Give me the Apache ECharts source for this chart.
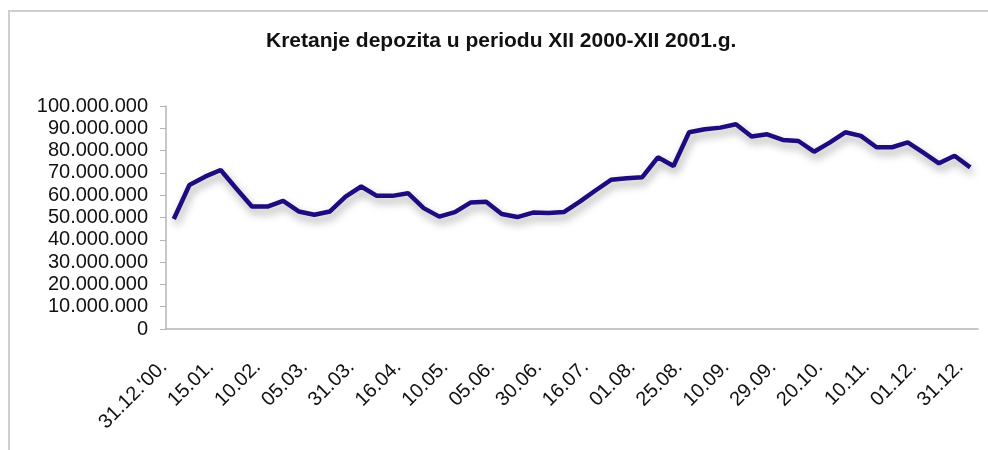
<!DOCTYPE html>
<html>
<head>
<meta charset="utf-8">
<script src="https://cdn.jsdelivr.net/npm/echarts@6/dist/echarts.min.js"></script>
<style>
  html, body { margin: 0; padding: 0; background: #fff; }
  #chart { width: 988px; height: 450px; }
</style>
</head>
<body>
<div id="chart"></div>
<script>
// labels shown under every third point
const dateLabels = ['31.12.\'00.', '15.01.', '10.02.', '05.03.', '31.03.', '16.04.', '10.05.', '05.06.', '30.06.',
  '16.07.', '01.08.', '25.08.', '10.09.', '29.09.', '20.10.', '10.11.', '01.12.', '31.12.']
const labelStep = 3

// deposits (millions)
const deposits = [
  49.3, 64.6, 68.3, 71.3, 63.0, 54.9, 54.9, 57.5, 52.7, 51.2,
  52.7, 59.4, 63.9, 59.7, 59.7, 60.9, 54.2, 50.4, 52.4, 56.7,
  57.1, 51.6, 50.2, 52.2, 52.0, 52.5, 57.1, 62.1, 66.9, 67.6,
  68.1, 77.0, 73.1, 88.2, 89.6, 90.3, 91.8, 86.3, 87.3, 84.8,
  84.3, 79.5, 83.6, 88.2, 86.6, 81.5, 81.5, 83.7, 79.1, 74.3,
  77.7, 72.5
]

const yTicks = { min: 0, max: 100000000, interval: 10000000 }

const categories = deposits.map((_, i) => (i % labelStep === 0 ? dateLabels[i / labelStep] : ''))
const values = deposits.map((v) => Math.round(v * 1000000))

const fmt = (v) => String(v).replace(/\B(?=(\d{3})+(?!\d))/g, '.')

const font = "'Liberation Sans', Arial, sans-serif"
const chart = echarts.init(document.getElementById('chart'))

chart.setOption({
  animation: false,
  title: {
    text: 'Kretanje depozita u periodu XII 2000-XII 2001.g.',
    left: 266,
    top: 31,
    padding: 0,
    textStyle: { fontFamily: font, fontSize: 21, fontWeight: 'bold', color: '#111' }
  },
  graphic: [{
    type: 'rect',
    shape: { x: 9, y: 11, width: 1000, height: 470 },
    style: { fill: 'none', stroke: '#cfcfcf', lineWidth: 2 },
    silent: true
  }],
  grid: { left: 166, right: 10, top: 106, bottom: 121 },
  xAxis: {
    type: 'category',
    data: categories,
    boundaryGap: true,
    axisLine: { lineStyle: { color: '#b4b4b4', width: 1.5 } },
    axisTick: { interval: 0, length: 6, lineStyle: { color: '#b4b4b4' } },
    axisLabel: {
      interval: labelStep - 1,
      rotate: 45,
      margin: 25,
      padding: [0, 14, 0, 0],
      fontFamily: font,
      fontSize: 20,
      color: '#111'
    }
  },
  yAxis: {
    type: 'value',
    min: yTicks.min,
    max: yTicks.max,
    interval: yTicks.interval,
    splitLine: { show: false },
    axisLine: { show: true, lineStyle: { color: '#b4b4b4', width: 1.5 } },
    axisTick: { show: true, length: 6, lineStyle: { color: '#b4b4b4' } },
    axisLabel: { formatter: fmt, margin: 18, fontFamily: font, fontSize: 20, color: '#111' }
  },
  series: [{
    type: 'line',
    data: values,
    symbol: 'none',
    lineStyle: {
      color: '#1c0c80',
      width: 4.5,
      shadowColor: 'rgba(0,0,0,0.35)',
      shadowBlur: 8,
      shadowOffsetX: 2,
      shadowOffsetY: 5
    }
  }]
})
</script>
</body>
</html>
